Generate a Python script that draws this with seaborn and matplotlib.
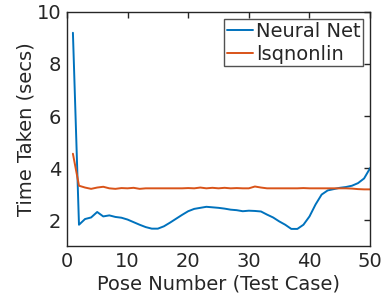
import numpy as np
import pandas as pd
import matplotlib
matplotlib.use('Agg')
import matplotlib.pyplot as plt
import seaborn as sns

# Pose numbers 1..50
poses = list(range(1, 51))

neural_net = [9.2, 1.82, 2.04, 2.1, 2.31, 2.14, 2.18, 2.12, 2.09, 2.02,
              1.92, 1.82, 1.73, 1.67, 1.67, 1.76, 1.9, 2.05, 2.2, 2.34,
              2.43, 2.47, 2.51, 2.49, 2.47, 2.44, 2.4, 2.38, 2.34, 2.36,
              2.35, 2.33, 2.21, 2.1, 1.95, 1.82, 1.66, 1.66, 1.82, 2.14,
              2.6, 2.98, 3.14, 3.19, 3.24, 3.27, 3.32, 3.42, 3.6, 4.0]

lsqnonlin = [4.55, 3.32, 3.25, 3.2, 3.25, 3.28, 3.22, 3.2, 3.23, 3.22,
             3.24, 3.2, 3.22, 3.22, 3.22, 3.22, 3.22, 3.22, 3.22, 3.23,
             3.22, 3.25, 3.22, 3.24, 3.22, 3.24, 3.22, 3.23, 3.22, 3.22,
             3.29, 3.25, 3.22, 3.22, 3.22, 3.22, 3.22, 3.22, 3.23, 3.22,
             3.22, 3.22, 3.22, 3.22, 3.22, 3.22, 3.21, 3.19, 3.18, 3.18]

series_names = ['Neural Net', 'lsqnonlin']
colors = ['#0072BD', '#D95319']

df = pd.concat([
    pd.DataFrame({'pose': poses, 'time': neural_net, 'method': series_names[0]}),
    pd.DataFrame({'pose': poses, 'time': lsqnonlin, 'method': series_names[1]}),
])

sns.set_style('white')
plt.rcParams['font.family'] = ['DejaVu Sans']

fig = plt.figure(figsize=(3.82, 2.99), dpi=100)
ax = fig.add_axes([0.175, 0.177, 0.794, 0.783])

sns.lineplot(data=df, x='pose', y='time', hue='method', palette=colors,
             linewidth=1.4, ax=ax)

ax.set_xlim(0, 50)
ax.set_ylim(1, 10)
ax.set_xticks([0, 10, 20, 30, 40, 50])
ax.set_yticks([2, 4, 6, 8, 10])
ax.set_xlabel('Pose Number (Test Case)', fontsize=14, color='#262626', labelpad=3)
ax.set_ylabel('Time Taken (secs)', fontsize=14, color='#262626', labelpad=1)

ax.tick_params(direction='in', length=4, width=1, top=True, right=True,
               labelsize=14, colors='#262626', pad=4)
for s in ax.spines.values():
    s.set_color('#262626')
    s.set_linewidth(1)

leg = ax.legend(loc='upper right', fontsize=14, frameon=True, fancybox=False,
                borderpad=0.15, handlelength=1.35, handletextpad=0.15,
                labelspacing=0.2, borderaxespad=0.35)
leg.get_frame().set_edgecolor('#262626')
leg.get_frame().set_linewidth(1)

fig.savefig('out.png', dpi=100)
